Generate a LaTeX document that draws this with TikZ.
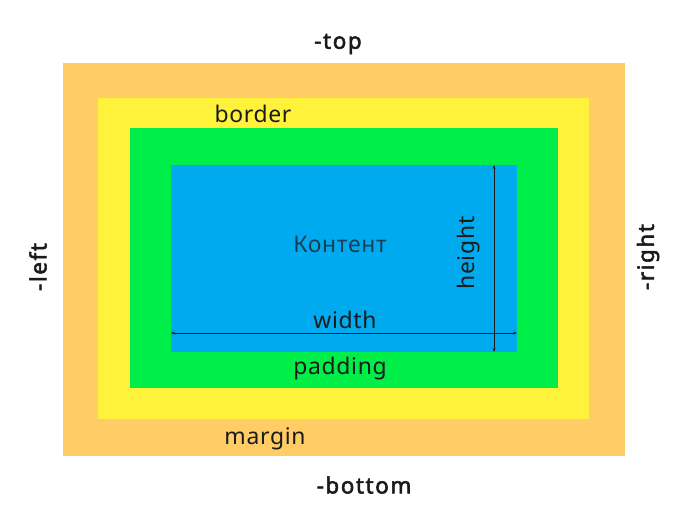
\documentclass[tikz,border=0pt]{standalone}
\usepackage{fontspec}
\setmainfont{Noto Sans}[AutoFakeBold=2.5]
\usetikzlibrary{arrows.meta}
\definecolor{margincol}{HTML}{FFCC66}
\definecolor{bordercol}{HTML}{FFF23A}
\definecolor{paddingcol}{HTML}{00EE48}
\definecolor{contentcol}{HTML}{00AAEE}
\definecolor{inkcol}{HTML}{1A1A1A}
\definecolor{contentink}{HTML}{173F55}

\begin{document}
\begin{tikzpicture}[x=1bp, y=-1bp,
		lbl/.style={text=inkcol, font=\fontsize{23}{26}\selectfont\addfontfeature{LetterSpace=3}, inner sep=0pt},
		side/.style={text=inkcol, font=\fontsize{22.5}{26}\selectfont\bfseries\addfontfeature{LetterSpace=7}, inner sep=0pt},
		dim/.style={line width=0.5pt, color=inkcol, {Stealth[length=4pt,width=3pt]}-{Stealth[length=4pt,width=3pt]}}]
			%%%%% START %%%%%
			
			\useasboundingbox (0, 0) rectangle (700, 523);
			
			\fill[margincol] (63, 63) rectangle (625, 456);
			\fill[bordercol] (98, 98) rectangle (589, 419);
			\fill[paddingcol] (130, 128) rectangle (558, 388);
			\fill[contentcol] (171, 165) rectangle (517, 352);
			
			\coordinate (wl) at (171, 333);
			\coordinate (wr) at (517, 333);
			\coordinate (ht) at (494, 165);
			\coordinate (hb) at (494, 352);
			\draw[dim] (wl) -- (wr);
			\draw[dim] (ht) -- (hb);
			
			\node[side] (top) at (338, 44) {-top};
			\node[side] (bottom) at (364, 485) {-bottom};
			\node[side, rotate=90] (left) at (38, 267) {-left};
			\node[side, rotate=90] (right) at (648, 257) {-right};
			
			\node[lbl] (border) at (253, 114) {border};
			\node[lbl] (margin) at (265, 439) {margin};
			\node[lbl] (padding) at (340, 369) {padding};
			\node[lbl, text=contentink] (content) at (340, 244) {Контент};
			\node[lbl] (width) at (345, 320) {width};
			\node[lbl, rotate=90] (height) at (469, 253) {height};
			
			%%%%% END %%%%%
		\end{tikzpicture}
\end{document}
